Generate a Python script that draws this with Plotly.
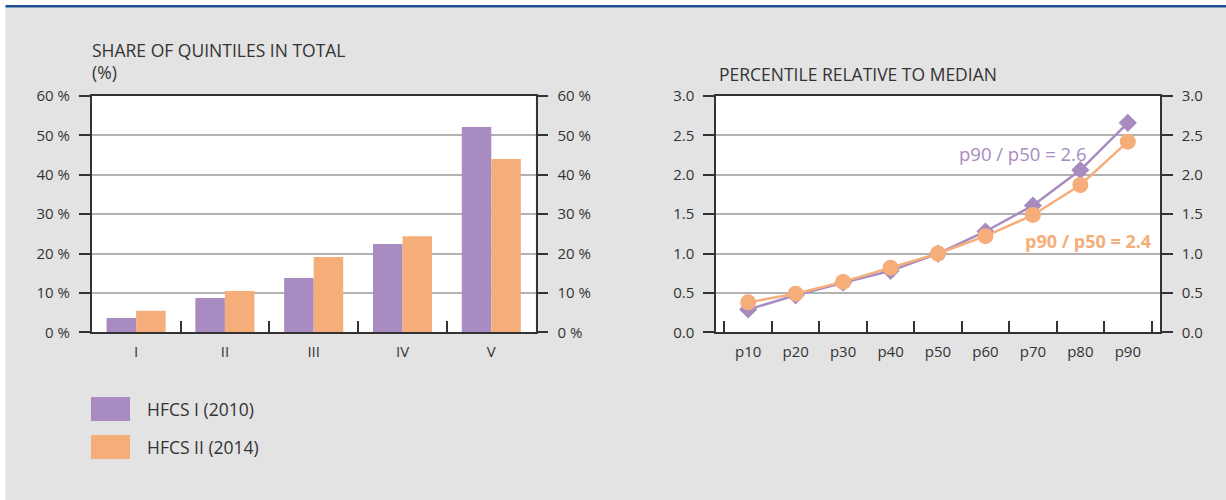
import plotly.graph_objects as go

# Share of each income quintile in total (%)
quintiles = ["I", "II", "III", "IV", "V"]
share_2010 = [3.6, 8.7, 13.8, 22.4, 52.1]
share_2014 = [5.5, 10.5, 19.1, 24.4, 44.0]

# Percentile relative to the median
percentiles = ["p10", "p20", "p30", "p40", "p50", "p60", "p70", "p80", "p90"]
ratio_2010 = [0.29, 0.47, 0.63, 0.78, 1.00, 1.28, 1.61, 2.06, 2.66]
ratio_2014 = [0.38, 0.49, 0.64, 0.82, 1.00, 1.22, 1.49, 1.87, 2.42]

series_names = ["HFCS I (2010)", "HFCS II (2014)"]
share_ticks = [0, 10, 20, 30, 40, 50, 60]
ratio_ticks = [0.0, 0.5, 1.0, 1.5, 2.0, 2.5, 3.0]
label_2010 = "p90 / p50 = 2.6"
label_2014 = "p90 / p50 = 2.4"

PURPLE = "#a78bc1"
ORANGE = "#f5ad7a"
BG = "#e3e3e3"
INK = "#333333"
GRID = "#b2b2b2"
FONT = "Open Sans"

W, H = 1226, 500
px = lambda v: v / W
py = lambda v: 1 - v / H

fig = go.Figure()

fig.add_trace(go.Bar(x=quintiles, y=share_2010, name=series_names[0],
                     marker=dict(color=PURPLE, line=dict(width=0)),
                     xaxis="x", yaxis="y", showlegend=False))
fig.add_trace(go.Bar(x=quintiles, y=share_2014, name=series_names[1],
                     marker=dict(color=ORANGE, line=dict(width=0)),
                     xaxis="x", yaxis="y", showlegend=False))
# invisible carrier so the right-hand share axis is drawn
fig.add_trace(go.Scatter(x=quintiles, y=share_2010, mode="none", hoverinfo="skip",
                         xaxis="x", yaxis="y3", showlegend=False))

fig.add_trace(go.Scatter(x=percentiles, y=ratio_2010, name=series_names[0],
                         mode="lines+markers",
                         line=dict(color=PURPLE, width=2.5),
                         marker=dict(symbol="diamond", size=14, color=PURPLE),
                         xaxis="x2", yaxis="y2", showlegend=False))
fig.add_trace(go.Scatter(x=percentiles, y=ratio_2014, name=series_names[1],
                         mode="lines+markers",
                         line=dict(color=ORANGE, width=2.5),
                         marker=dict(symbol="circle", size=16, color=ORANGE),
                         xaxis="x2", yaxis="y2", showlegend=False))
fig.add_trace(go.Scatter(x=percentiles, y=ratio_2010, mode="none", hoverinfo="skip",
                         xaxis="x2", yaxis="y4", showlegend=False))

plot_top, plot_bottom = 96, 332.3
ydom = [py(plot_bottom), py(plot_top)]
x1dom = [px(91.7), px(535.7)]
x2dom = [px(716), px(1160)]

tickfont = dict(family=FONT, size=15, color=INK)

xcommon = dict(type="category", showline=True, linecolor=INK, linewidth=1.5, mirror=True,
               ticks="inside", tickson="boundaries", ticklen=12, tickwidth=1.5,
               tickcolor=INK, showgrid=False, tickfont=tickfont, automargin=False,
               ticklabelstandoff=5, fixedrange=True)
ycommon = dict(showline=True, linecolor=INK, linewidth=1.5, ticks="outside",
               ticklen=11, tickwidth=1.5, tickcolor=INK, tickfont=tickfont,
               zeroline=False, fixedrange=True, ticklabelstandoff=6, automargin=False)

fig.update_layout(
    template="none",
    width=W, height=H, autosize=False,
    margin=dict(l=0, r=0, t=0, b=0, pad=0),
    paper_bgcolor=BG, plot_bgcolor="white",
    barmode="group", bargap=0.335, bargroupgap=0,
    font=dict(family=FONT, color=INK),
    showlegend=False,
    xaxis=dict(domain=x1dom, anchor="y", **xcommon),
    yaxis=dict(domain=ydom, anchor="x", range=[0, 60], tickvals=share_ticks,
               ticktext=[f"{v}\u00a0%" for v in share_ticks],
               showgrid=True, gridcolor=GRID, gridwidth=1.5, **ycommon),
    yaxis3=dict(overlaying="y", anchor="x", side="right", range=[0, 60],
                tickvals=share_ticks, ticktext=[f"{v}\u00a0%" for v in share_ticks],
                showgrid=False, **ycommon),
    xaxis2=dict(domain=x2dom, anchor="y2", **xcommon),
    yaxis2=dict(domain=ydom, anchor="x2", range=[0, 3], tickvals=ratio_ticks,
                tickformat=".1f", showgrid=True, gridcolor=GRID, gridwidth=1.5,
                **ycommon),
    yaxis4=dict(overlaying="y2", anchor="x2", side="right", range=[0, 3],
                tickvals=ratio_ticks, tickformat=".1f", showgrid=False, **ycommon),
)

shapes = [
    # white frame strip on the left and top, with the blue rule
    dict(type="rect", xref="paper", yref="paper", x0=0, x1=px(5.5), y0=0, y1=1,
         fillcolor="white", line=dict(width=0), layer="above"),
    dict(type="rect", xref="paper", yref="paper", x0=0, x1=1, y0=py(5), y1=1,
         fillcolor="white", line=dict(width=0), layer="above"),
    dict(type="rect", xref="paper", yref="paper", x0=px(5.5), x1=1, y0=py(7.5), y1=py(5),
         fillcolor="#1d4f91", line=dict(width=0), layer="above"),
    # legend swatches
    dict(type="rect", xref="paper", yref="paper", x0=px(91), x1=px(130),
         y0=py(421), y1=py(397), fillcolor=PURPLE, line=dict(width=0)),
    dict(type="rect", xref="paper", yref="paper", x0=px(91), x1=px(130),
         y0=py(459), y1=py(435), fillcolor=ORANGE, line=dict(width=0)),
]

title_font = dict(family=FONT, size=17.5, color=INK)
annotations = [
    dict(text="SHARE OF QUINTILES IN TOTAL", xref="paper", yref="paper",
         x=px(90), y=py(50), xanchor="left", yanchor="middle", showarrow=False,
         font=title_font),
    dict(text="(%)", xref="paper", yref="paper",
         x=px(90), y=py(72), xanchor="left", yanchor="middle", showarrow=False,
         font=title_font),
    dict(text="PERCENTILE RELATIVE TO MEDIAN", xref="paper", yref="paper",
         x=px(717), y=py(74), xanchor="left", yanchor="middle", showarrow=False,
         font=title_font),
    dict(text=series_names[0], xref="paper", yref="paper",
         x=px(145), y=py(409), xanchor="left", yanchor="middle", showarrow=False,
         font=title_font),
    dict(text=series_names[1], xref="paper", yref="paper",
         x=px(145), y=py(447), xanchor="left", yanchor="middle", showarrow=False,
         font=title_font),
    dict(text=label_2010, xref="x2", yref="y2",
         x=7.18, y=2.27, xanchor="right", yanchor="middle", showarrow=False,
         font=dict(family=FONT, size=18.5, color=PURPLE)),
    dict(text=f"<b>{label_2014}</b>", xref="x2", yref="y2",
         x=8.54, y=1.16, xanchor="right", yanchor="middle", showarrow=False,
         font=dict(family=FONT, size=18, color=ORANGE)),
]

fig.update_layout(shapes=shapes, annotations=annotations)
fig.write_html("out.html")
